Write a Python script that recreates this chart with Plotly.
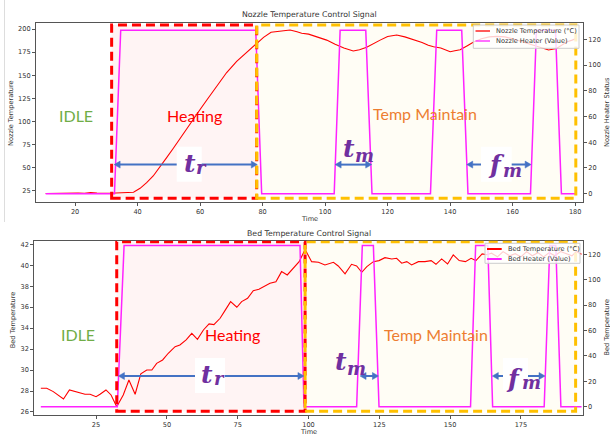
import plotly.graph_objects as go

# ---------------- data ----------------
# Nozzle: sampled temperature (°C) over time (s)
nozzle_time = [10.6, 13, 15, 17, 19, 21, 23, 25, 27, 29, 31, 33, 35, 37, 38.7,
               40.8, 42.9, 45, 47.2, 49.3, 51.5, 53.6, 55.7, 57.9, 60, 62.1,
               65.3, 68.5, 71.7, 74, 76, 78.1, 80.3, 82.7, 85.6, 88.8, 91,
               92.5, 94.7, 97.5, 100.5, 103.2, 106, 109, 111, 113.3, 115.5,
               117.6, 120, 122.9, 125.5, 128.3, 131, 133, 134.7, 137, 138.9,
               140, 141.5, 143.2, 145.5, 147.5, 150, 152.5, 155, 157.5, 160,
               162.5, 165, 166.7, 169, 171.5, 174, 175.8, 177.3, 179, 180.5]
nozzle_temp = [22.3, 22.5, 22.2, 22.6, 22.3, 22.9, 22.5, 23.2, 22.8, 22.4, 22.6,
               22.8, 22.9, 23.1, 23.6, 27.9, 34, 41.2, 51, 61, 71.5, 82, 92.5,
               103, 113, 123, 138, 153, 165, 172, 178, 184, 191, 196.5, 198,
               198.9, 197, 195.5, 194.5, 191.5, 188, 183.5, 179.5, 176.2, 177.5,
               180.2, 184.5, 188, 192, 193.5, 191.5, 188.8, 185.5, 182.5, 180.8,
               179.5, 177.3, 175.4, 176.5, 177.5, 182, 186, 189.5, 191.5, 192,
               191.5, 189.5, 187, 184.5, 182.7, 180, 177.3, 179, 182.5, 186,
               188, 190]

# Nozzle heater PWM value at its switching instants
nozzle_heater_time = [10.6, 32.6, 34.6, 77.8, 79.7, 102.9, 104.8, 113, 115,
                      133.7, 135.7, 143.7, 145.7, 165.7, 167.6, 173.7, 175.6, 180]
nozzle_heater_value = [0, 0, 127, 127, 0, 0, 127, 127, 0,
                       0, 127, 127, 0, 0, 127, 127, 0, 0]

# Bed: sampled temperature (°C) over time (s)
bed_time = [5.5, 7.6, 9.9, 13.5, 15.6, 18.2, 21.1, 22.9, 25, 26.4, 28.5, 30.3,
            32.3, 34.6, 36.6, 38.8, 40.8, 42.9, 44.7, 46.4, 48.5, 50.5, 52.9,
            54.6, 56.8, 58.8, 60.8, 62.9, 64.9, 66.6, 68.8, 70.5, 72.5, 74.7,
            76.4, 78.5, 80.5, 82.5, 84.7, 86.4, 88.5, 90.5, 92.5, 94.6, 96.7,
            98.8, 101.1, 103.5, 105.8, 108.8, 110.5, 112.9, 115.2, 117, 118.8,
            120.6, 122.9, 124.9, 127, 129.4, 131.1, 132.9, 134.7, 136.4, 138.8,
            141.1, 143.3, 145, 147, 149.1, 151.1, 153.2, 155.4, 157.4, 159.1,
            161.3, 163, 164.6, 166.7, 168.7, 171, 173, 175, 177, 179, 181, 183,
            185, 187, 189, 191, 193, 194.5, 196.4]
bed_temp = [28.26, 28.26, 27.94, 27.24, 28.1, 27.88, 27.69, 27.69, 27.46, 27.69,
            28.1, 27.62, 26.5, 27.62, 29.05, 27.69, 29.63, 30.0, 30.0, 30.64,
            30.96, 31.6, 32.23, 32.39, 32.87, 33.5, 32.93, 33.82, 34.4, 34.33,
            34.94, 35.67, 36.53, 35.99, 36.53, 36.85, 37.57, 37.7, 38.02, 38.28,
            38.43, 39.39, 39.07, 39.71, 40.34, 41.5, 40.34, 40.28, 40.03, 40.28,
            39.93, 39.17, 40.09, 39.93, 39.33, 39.87, 40.34, 40.44, 40.72, 40.6,
            40.66, 40.19, 40.34, 40.03, 40.34, 40.34, 40.44, 40.09, 40.6, 40.12,
            40.98, 40.44, 40.34, 40.66, 40.44, 41.08, 41.0, 41.15, 40.8, 41.3,
            40.9, 41.1, 40.8, 41.3, 40.9, 41.2, 40.8, 41.2, 40.9, 41.3, 41.1,
            40.9, 41.3, 41.05]

# Bed heater PWM value at its switching instants
bed_heater_time = [5.5, 32.5, 34.9, 97, 98.4, 117, 119, 122.9, 124.9,
                   157.2, 159, 163.3, 165, 183.2, 185.2, 187.3, 189.1, 196.4]
bed_heater_value = [0, 0, 127, 127, 0, 0, 127, 127, 0,
                    0, 127, 127, 0, 0, 127, 127, 0, 0]

# Tick positions
nozzle_time_ticks = [20, 40, 60, 80, 100, 120, 140, 160, 180]
nozzle_temp_ticks = [25, 50, 75, 100, 125, 150, 175, 200]
bed_time_ticks = [25, 50, 75, 100, 125, 150, 175]
bed_temp_ticks = [26, 28, 30, 32, 34, 36, 38, 40, 42]
heater_ticks = [0, 20, 40, 60, 80, 100, 120]

# Phase boundaries (time) and heater-cycle spans
nozzle_phase = {"start": 31.7, "reach": 78.1, "end": 180.2}
bed_phase = {"start": 32.3, "reach": 98.8, "end": 194.3}
nozzle_tm = (103.2, 114.9)
nozzle_fm = (145.3, 165.9)
bed_tm = (118.2, 124.7)
bed_fm = (164.9, 183.5)

# ---------------- styling ----------------
W, H = 610, 439
RED = "#FF0000"
MAGENTA = "#FF22FF"
GOLD = "#FFC000"
GREEN = "#70AD47"
ORANGE = "#ED7D31"
PURPLE = "#7030A0"
BLUE = "#4472C4"
AX = "#555555"
TXT = "#333333"
MPL = "DejaVu Sans"
LABEL_FONT = "Lato"
MATH_FONT = "DejaVu Serif"

# Panel geometry in pixels and the axis ranges that go with it
TOP = dict(x0=36, x1=583, y0=23, y1=202, xr=(7.5, 182.5), yr=(13.1, 206.5))
BOT = dict(x0=34.3, x1=582.7, y0=240.7, y1=415, xr=(3.2, 196.8), yr=(25.71, 42.34))


def px(x):
    return x / W


def py(y):
    return 1 - y / H


def to_px(panel, t, v):
    xa, xb = panel["xr"]
    ya, yb = panel["yr"]
    X = panel["x0"] + (t - xa) / (xb - xa) * (panel["x1"] - panel["x0"])
    Y = panel["y1"] - (v - ya) / (yb - ya) * (panel["y1"] - panel["y0"])
    return X, Y


fig = go.Figure()

fig.add_trace(go.Scatter(x=nozzle_time, y=nozzle_temp, mode="lines",
                         name="Nozzle Temperature (°C)",
                         line=dict(color=RED, width=1.1),
                         xaxis="x", yaxis="y", showlegend=False))
fig.add_trace(go.Scatter(x=nozzle_heater_time, y=nozzle_heater_value, mode="lines",
                         name="Nozzle Heater (Value)",
                         line=dict(color=MAGENTA, width=1.5),
                         xaxis="x", yaxis="y2", showlegend=False))
fig.add_trace(go.Scatter(x=bed_time, y=bed_temp, mode="lines",
                         name="Bed Temperature (°C)",
                         line=dict(color=RED, width=1.1),
                         xaxis="x2", yaxis="y3", showlegend=False))
fig.add_trace(go.Scatter(x=bed_heater_time, y=bed_heater_value, mode="lines",
                         name="Bed Heater (Value)",
                         line=dict(color=MAGENTA, width=1.5),
                         xaxis="x2", yaxis="y4", showlegend=False))

axis_common = dict(showline=True, linecolor=AX, linewidth=1, ticks="outside",
                   ticklen=3, tickwidth=1, tickcolor=AX, showgrid=False,
                   zeroline=False, tickfont=dict(family=MPL, size=6.6, color=TXT))

fig.update_layout(
    width=W, height=H,
    margin=dict(l=0, r=0, t=0, b=0),
    paper_bgcolor="white", plot_bgcolor="white",
    showlegend=False,
    xaxis=dict(domain=[px(TOP["x0"]), px(TOP["x1"])], anchor="y", range=list(TOP["xr"]),
               tickvals=nozzle_time_ticks, mirror=True, **axis_common),
    yaxis=dict(domain=[py(TOP["y1"]), py(TOP["y0"])], anchor="x", range=list(TOP["yr"]),
               tickvals=nozzle_temp_ticks, **axis_common),
    yaxis2=dict(overlaying="y", side="right", anchor="x", range=[-6.45, 132.7],
                tickvals=heater_ticks, **axis_common),
    xaxis2=dict(domain=[px(BOT["x0"]), px(BOT["x1"])], anchor="y3", range=list(BOT["xr"]),
                tickvals=bed_time_ticks, mirror=True, **axis_common),
    yaxis3=dict(domain=[py(BOT["y1"]), py(BOT["y0"])], anchor="x2", range=list(BOT["yr"]),
                tickvals=bed_temp_ticks, **axis_common),
    yaxis4=dict(overlaying="y3", side="right", anchor="x2", range=[-6.5, 130.7],
                tickvals=heater_ticks, **axis_common),
)

shapes = []
annotations = []


def phase_boxes(xr, yr, phase, ylo, yhi):
    # light fills under the traces, dashed outlines above them
    shapes.append(dict(type="rect", xref=xr, yref=yr, x0=phase["start"], x1=phase["reach"],
                       y0=ylo, y1=yhi, fillcolor="rgba(255,0,0,0.045)",
                       line=dict(width=0), layer="below"))
    shapes.append(dict(type="rect", xref=xr, yref=yr, x0=phase["reach"], x1=phase["end"],
                       y0=ylo, y1=yhi, fillcolor="rgba(255,192,0,0.04)",
                       line=dict(width=0), layer="below"))
    shapes.append(dict(type="rect", xref=xr, yref=yr, x0=phase["start"], x1=phase["reach"],
                       y0=ylo, y1=yhi, line=dict(color=RED, width=3, dash="9px,5px"),
                       layer="above"))
    shapes.append(dict(type="rect", xref=xr, yref=yr, x0=phase["reach"], x1=phase["end"],
                       y0=ylo, y1=yhi, line=dict(color=GOLD, width=3, dash="9px,5px"),
                       layer="above"))


phase_boxes("x", "y", nozzle_phase, 17.1, 204.3)
phase_boxes("x2", "y3", bed_phase, 26.07, 42.25)

# faint page border on the left of the upper panel
shapes.append(dict(type="line", xref="paper", yref="paper", x0=px(4.5), x1=px(4.5),
                   y0=py(0), y1=py(222), line=dict(color="#dddddd", width=1)))


def double_arrow(panel, t0, t1, v, head=6.0, half=3.5):
    # shaft plus a filled triangle at each end, built in pixel space
    xa, y = to_px(panel, t0, v)
    xb, _ = to_px(panel, t1, v)
    shapes.append(dict(type="line", xref="paper", yref="paper",
                       x0=px(xa + head - 0.5), x1=px(xb - head + 0.5), y0=py(y), y1=py(y),
                       line=dict(color=BLUE, width=2), layer="above"))
    for tip, back in ((xa, xa + head), (xb, xb - head)):
        path = (f"M {px(tip)},{py(y)} L {px(back)},{py(y - half)} "
                f"L {px(back)},{py(y + half)} Z")
        shapes.append(dict(type="path", xref="paper", yref="paper", path=path,
                           fillcolor=BLUE, line=dict(color=BLUE, width=0.5), layer="above"))


double_arrow(TOP, nozzle_phase["start"] + 0.8, nozzle_phase["reach"] + 0.2, 53.5)
double_arrow(TOP, nozzle_tm[0], nozzle_tm[1], 53.5)
double_arrow(TOP, nozzle_fm[0], nozzle_fm[1], 53.5)
double_arrow(BOT, bed_phase["start"] + 0.6, bed_phase["reach"] - 0.4, 29.43)
double_arrow(BOT, bed_tm[0], bed_tm[1], 29.43)
double_arrow(BOT, bed_fm[0], bed_fm[1], 29.43)


def white_card(x0, y0, x1, y1):
    shapes.append(dict(type="rect", xref="paper", yref="paper", x0=px(x0), x1=px(x1),
                       y0=py(y1), y1=py(y0), fillcolor="white", line=dict(width=0),
                       layer="above"))


# white cards behind t_r and f_m, over the arrow shafts
white_card(176.7, 146.7, 201.7, 181.7)
white_card(481, 146.7, 511.7, 181.7)
white_card(195, 358, 225, 393)
white_card(503, 358, 528, 390)


def label(xr, yr, x, y, text, color, size=16, family=LABEL_FONT):
    annotations.append(dict(xref=xr, yref=yr, x=x, y=y, text=text, showarrow=False,
                            font=dict(family=family, size=size, color=color),
                            xanchor="center", yanchor="middle"))


def symbol(x, y, main, sub_x, sub_y, sub):
    # bold italic symbol with its subscript as a smaller neighbouring letter
    annotations.append(dict(xref="paper", yref="paper", x=px(x), y=py(y),
                            text=f"<b><i>{main}</i></b>", showarrow=False,
                            xanchor="center", yanchor="middle",
                            font=dict(family=MATH_FONT, size=25, color=PURPLE)))
    annotations.append(dict(xref="paper", yref="paper", x=px(sub_x), y=py(sub_y),
                            text=f"<b><i>{sub}</i></b>", showarrow=False,
                            xanchor="left", yanchor="middle",
                            font=dict(family=MATH_FONT, size=18, color=PURPLE)))


# Phase names
label("x", "y", 20.3, 107, "IDLE", GREEN)
label("x", "y", 58.2, 107, "Heating", RED)
label("x", "y", 131.9, 109, "Temp Maintain", ORANGE)
label("x2", "y3", 18.8, 33.35, "IDLE", GREEN)
label("x2", "y3", 73.1, 33.35, "Heating", RED)
label("x2", "y3", 145, 33.35, "Temp Maintain", ORANGE)

# Timing symbols
symbol(189.5, 163.5, "t", 194.5, 167.5, "r")
symbol(348.5, 148, "t", 352.5, 155.5, "m")
symbol(496, 164.5, "f", 500.5, 170, "m")
symbol(207, 374.5, "t", 212, 378, "r")
symbol(340.5, 361, "t", 345, 368.5, "m")
symbol(514.5, 378.5, "f", 519.5, 382, "m")


def legend_box(x0, x1, y0, y1, rows, sx0, sx1, tx, lw):
    shapes.append(dict(type="rect", xref="paper", yref="paper", x0=px(x0), x1=px(x1),
                       y0=py(y1), y1=py(y0), fillcolor="rgba(255,255,255,0.8)",
                       line=dict(color="#cccccc", width=1), layer="above"))
    for (ry, color, text) in rows:
        shapes.append(dict(type="line", xref="paper", yref="paper", x0=px(sx0), x1=px(sx1),
                           y0=py(ry), y1=py(ry), line=dict(color=color, width=lw),
                           layer="above"))
        annotations.append(dict(xref="paper", yref="paper", x=px(tx), y=py(ry),
                                xanchor="left", yanchor="middle", showarrow=False,
                                text=text, font=dict(family=MPL, size=6.6, color=TXT)))


legend_box(473.3, 579, 25, 48.3,
           [(31, RED, "Nozzle Temperature (°C)"), (41, MAGENTA, "Nozzle Heater (Value)")],
           475.5, 490, 494.3, 1.3)
legend_box(485, 580, 243.3, 263.3,
           [(249, RED, "Bed Temperature (°C)"), (259, MAGENTA, "Bed Heater (Value)")],
           487, 501.7, 505.7, 2)


def paper_text(x, y, text, size=6.6, angle=0):
    annotations.append(dict(xref="paper", yref="paper", x=px(x), y=py(y), text=text,
                            showarrow=False, textangle=angle, xanchor="center",
                            yanchor="middle", font=dict(family=MPL, size=size, color=TXT)))


# Titles and axis titles
paper_text(309.5, 15, "Nozzle Temperature Control Signal", 7.8)
paper_text(309.5, 219, "Time")
paper_text(11, 113, "Nozzle Temperature", angle=-90)
paper_text(606.5, 112.5, "Nozzle Heater Status", angle=-90)
paper_text(308.5, 233, "Bed Temperature Control Signal", 7.8)
paper_text(308.5, 432, "Time")
paper_text(13.3, 320, "Bed Temperature", angle=-90)
paper_text(606.5, 327, "Bed Temperature", angle=-90)

fig.update_layout(shapes=shapes, annotations=annotations)

fig.write_html("out.html")
